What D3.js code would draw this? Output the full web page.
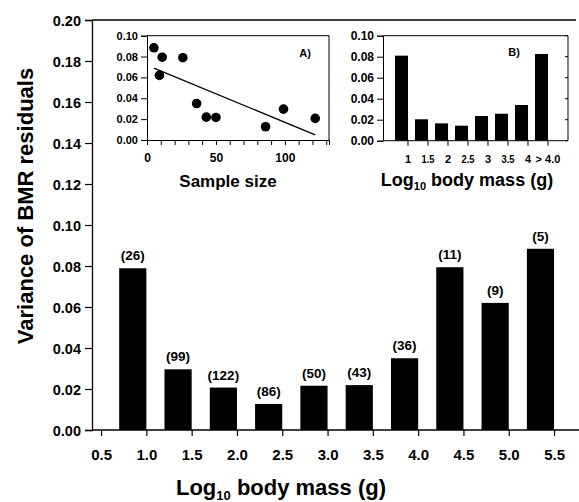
<!DOCTYPE html>
<html><head><meta charset="utf-8">
<script src="https://d3js.org/d3.v7.min.js"></script>
<style>
body{margin:0;background:#fff;}
svg{display:block;font-family:"Liberation Sans",Arial,sans-serif;font-weight:bold;}
</style></head><body>
<svg id="c" width="579" height="502"></svg>
<script>
// ---- data ----
const massBins = [1.0, 1.5, 2.0, 2.5, 3.0, 3.5, 4.0, 4.5, 5.0, 5.5];   // upper edge of log10 body-mass bin
const variances = [0.0789, 0.0296, 0.0207, 0.0127, 0.0216, 0.0219, 0.0350, 0.0794, 0.0620, 0.0884];
const sampleSizes = [26, 99, 122, 86, 50, 43, 36, 11, 9, 5];
const mainXTicks = [0.5, 1.0, 1.5, 2.0, 2.5, 3.0, 3.5, 4.0, 4.5, 5.0, 5.5];
const mainYTicks = [0, 0.02, 0.04, 0.06, 0.08, 0.10, 0.12, 0.14, 0.16, 0.18, 0.20];
const insetYTicks = [0, 0.02, 0.04, 0.06, 0.08, 0.10];
const insetBLabels = ["1", "1.5", "2", "2.5", "3", "3.5", "4", "> 4.0"];
const insetBValues = [0.081, 0.0204, 0.0165, 0.0143, 0.0235, 0.0257, 0.034, 0.0826];

const svg = d3.select("#c");
const fmt2 = d3.format(".2f");
const FF = "Liberation Sans, Arial, sans-serif";

// ---- main chart ----
const x = d3.scaleLinear().domain([0.4, 5.75]).range([92, 576.7]);
const y = d3.scaleLinear().domain([0, 0.2]).range([430, 20]);
const barW = 0.3;

const gx = svg.append("g").attr("transform", "translate(0,430)")
  .call(d3.axisBottom(x).tickValues(mainXTicks).tickFormat(d3.format(".1f")).tickSizeOuter(0).tickSize(6).tickPadding(13));
gx.select(".domain").attr("stroke-width", 1.3).attr("d", `M92,0H579`);
gx.selectAll("text").attr("font-size", 15).attr("font-weight", "bold").attr("font-family", FF);
gx.selectAll("line").attr("stroke-width", 1.2);

const gy = svg.append("g").attr("transform", "translate(92,0)")
  .call(d3.axisLeft(y).tickValues(mainYTicks).tickFormat(fmt2).tickSizeOuter(0).tickSize(7).tickPadding(4));
gy.select(".domain").attr("stroke-width", 1.3);
gy.selectAll("text").attr("font-size", 14.5).attr("font-weight", "bold").attr("font-family", FF).attr("dy", "0.36em");
gy.selectAll("line").attr("stroke-width", 1.2);

// top frame line
svg.append("line").attr("x1", x(0.4)).attr("x2", 576).attr("y1", y(0.2)).attr("y2", y(0.2))
  .attr("stroke", "#000").attr("stroke-width", 1.3);

svg.append("g").selectAll("rect").data(massBins).join("rect")
  .attr("x", (d) => x(d - barW)).attr("width", (d) => x(d) - x(d - barW))
  .attr("y", (d, i) => y(variances[i])).attr("height", (d, i) => y(0) - y(variances[i]))
  .attr("fill", "#000");

svg.append("g").selectAll("text").data(massBins).join("text")
  .attr("x", (d) => x(d - barW / 2)).attr("y", (d, i) => y(variances[i]) - 8)
  .attr("text-anchor", "middle").attr("font-size", 13.5)
  .text((d, i) => `(${sampleSizes[i]})`);

// axis titles
const xt = svg.append("text").attr("x", 281).attr("y", 495).attr("text-anchor", "middle").attr("font-size", 22);
xt.append("tspan").text("Log");
xt.append("tspan").attr("font-size", 13).attr("dy", 5).text("10");
xt.append("tspan").attr("dy", -5).text(" body mass (g)");

svg.append("text").attr("transform", "translate(33,206) rotate(-90)")
  .attr("text-anchor", "middle").attr("font-size", 22).text("Variance of BMR residuals");

// ---- inset A: scatter ----
const ax = d3.scaleLinear().domain([0, 132]).range([147, 329]);
const ay = d3.scaleLinear().domain([0, 0.1]).range([140, 35.7]);

const gax = svg.append("g").attr("transform", "translate(0,140)")
  .call(d3.axisBottom(ax).tickValues(d3.range(0, 131, 10)).tickFormat((d) => d % 50 === 0 ? d : "").tickSizeOuter(0).tickSize(5).tickPadding(8));
gax.selectAll("text").attr("font-size", 12).attr("font-weight", "bold").attr("font-family", FF);
const gay = svg.append("g").attr("transform", "translate(147,0)")
  .call(d3.axisLeft(ay).tickValues(insetYTicks).tickFormat(fmt2).tickSizeOuter(0).tickSize(6).tickPadding(3));
gay.selectAll("text").attr("font-size", 11).attr("font-weight", "bold").attr("font-family", FF);
svg.append("path").attr("d", `M${ax(0)},${ay(0.1)}H${ax(132)}V${ay(0)}`).attr("fill", "none").attr("stroke", "#000").attr("stroke-width", 1);

// least-squares line through the points
const mx = d3.mean(sampleSizes), my = d3.mean(variances);
const slope = d3.sum(sampleSizes, (s, i) => (s - mx) * (variances[i] - my)) / d3.sum(sampleSizes, (s) => (s - mx) ** 2);
const icpt = my - slope * mx;
const xMin = d3.min(sampleSizes), xMax = d3.max(sampleSizes);
svg.append("line").attr("x1", ax(xMin)).attr("y1", ay(icpt + slope * xMin))
  .attr("x2", ax(xMax)).attr("y2", ay(icpt + slope * xMax)).attr("stroke", "#000").attr("stroke-width", 1.3);

svg.append("g").selectAll("circle").data(sampleSizes).join("circle")
  .attr("cx", (d) => ax(d)).attr("cy", (d, i) => ay(variances[i])).attr("r", 4.8).attr("fill", "#000");

svg.append("text").attr("x", 305).attr("y", 57).attr("text-anchor", "middle").attr("font-size", 11).text("A)");
svg.append("text").attr("x", 228).attr("y", 187).attr("text-anchor", "middle").attr("font-size", 17).text("Sample size");

// ---- inset B: bars ----
const bx = d3.scaleBand().domain(insetBLabels).range([385, 558]).paddingInner(0.35).paddingOuter(0.5);
const by = d3.scaleLinear().domain([0, 0.1]).range([140.7, 35.7]);

const gby = svg.append("g").attr("transform", "translate(383,0)")
  .call(d3.axisLeft(by).tickValues(insetYTicks).tickFormat(fmt2).tickSizeOuter(0).tickSize(6).tickPadding(3));
gby.selectAll("text").attr("font-size", 12).attr("font-weight", "bold").attr("font-family", FF);
svg.append("path").attr("d", `M383,${by(0.1)}H568V${by(0)}H383`).attr("fill", "none").attr("stroke", "#000").attr("stroke-width", 1);
// right-side inner ticks
svg.append("g").selectAll("line").data(insetYTicks).join("line")
  .attr("x1", 568).attr("x2", 565).attr("y1", (d) => by(d)).attr("y2", (d) => by(d)).attr("stroke", "#000");

svg.append("g").selectAll("rect").data(insetBLabels).join("rect")
  .attr("x", (d) => bx(d)).attr("width", bx.bandwidth())
  .attr("y", (d, i) => by(insetBValues[i])).attr("height", (d, i) => by(0) - by(insetBValues[i]))
  .attr("fill", "#000");

// ticks and labels at the right edge of each bar
const edge = (d) => bx(d) + bx.bandwidth();
svg.append("g").selectAll("line").data(insetBLabels).join("line")
  .attr("x1", edge).attr("x2", edge)
  .attr("y1", by(0)).attr("y2", by(0) + 5).attr("stroke", "#000");

svg.append("g").selectAll("text").data(insetBLabels).join("text")
  .attr("x", edge).attr("y", 163).attr("text-anchor", "middle").attr("font-size", 11)
  .attr("textLength", (d) => d.length === 3 ? 13 : null)
  .attr("lengthAdjust", "spacingAndGlyphs")
  .text((d) => d);

svg.append("text").attr("x", 514).attr("y", 56).attr("text-anchor", "middle").attr("font-size", 11).text("B)");

const bt = svg.append("text").attr("x", 467).attr("y", 186).attr("text-anchor", "middle").attr("font-size", 18);
bt.append("tspan").text("Log");
bt.append("tspan").attr("font-size", 11).attr("dy", 4).text("10");
bt.append("tspan").attr("dy", -4).text(" body mass (g)");
</script>
</body></html>
